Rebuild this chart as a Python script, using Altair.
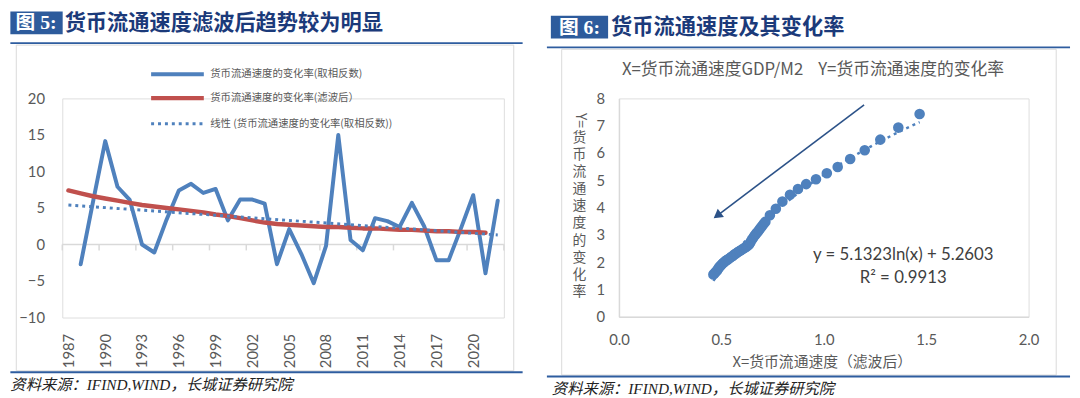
import altair as alt
import pandas as pd

# ---------------- data (left: 图5) ----------------
years = list(range(1987, 2023))
label_years = [1987, 1990, 1993, 1996, 1999, 2002, 2005, 2008, 2011, 2014, 2017, 2020]
left_y_ticks = [-10, -5, 0, 5, 10, 15, 20]

inv_years = list(range(1988, 2023))
inv_change = [-2.7, 5.8, 14.15, 7.9, 6.1, 0.0, -1.1, 3.4, 7.4, 8.3, 7.05, 7.6, 3.3,
              6.15, 6.15, 5.6, -2.7, 2.1, -1.35, -5.3, -0.2, 15.0, 0.6, -0.8, 3.6,
              3.2, 2.4, 5.7, 2.5, -2.15, -2.15, 2.2, 6.75, -3.95, 6.0]

filt_years = list(range(1987, 2022))
filt_change = [7.4, 7.0, 6.6, 6.3, 6.0, 5.7, 5.4, 5.2, 5.0, 4.8, 4.6, 4.4, 4.1, 3.9,
               3.6, 3.3, 3.0, 2.8, 2.7, 2.6, 2.5, 2.4, 2.4, 2.3, 2.2, 2.2, 2.1, 2.0,
               2.0, 1.9, 1.8, 1.8, 1.7, 1.7, 1.6]

trend_years = [1987, 2022]
trend_values = [5.4, 1.3]

legend_labels = ["货币流通速度的变化率(取相反数)",
                 "货币流通速度的变化率(滤波后）",
                 "线性 (货币流通速度的变化率(取相反数))"]

# ---------------- data (right: 图6) ----------------
speed_x = [0.461, 0.467, 0.473, 0.479, 0.485, 0.491, 0.497, 0.503, 0.509, 0.515, 0.521,
           0.527, 0.533, 0.541, 0.549, 0.557, 0.565, 0.573, 0.581, 0.589, 0.597, 0.606,
           0.614, 0.622, 0.629, 0.635, 0.641, 0.647, 0.654, 0.660, 0.666, 0.672, 0.678,
           0.685, 0.692, 0.699, 0.707, 0.715, 0.737, 0.766, 0.798, 0.835, 0.874, 0.914,
           0.962, 1.015, 1.068, 1.129, 1.200, 1.276, 1.364, 1.468]
speed_change = [1.55, 1.60, 1.65, 1.70, 1.77, 1.83, 1.88, 1.93, 1.97, 2.01, 2.05,
                2.08, 2.11, 2.15, 2.20, 2.24, 2.29, 2.33, 2.37, 2.41, 2.45, 2.49,
                2.53, 2.57, 2.61, 2.65, 2.72, 2.80, 2.88, 2.95, 3.01, 3.07, 3.12,
                3.19, 3.26, 3.33, 3.41, 3.48, 3.72, 3.96, 4.22, 4.47, 4.68, 4.86,
                5.04, 5.26, 5.49, 5.78, 6.10, 6.49, 6.93, 7.43]
right_x_ticks = [0, 0.5, 1.0, 1.5, 2.0]
right_y_ticks = [0, 1, 2, 3, 4, 5, 6, 7, 8]
arrow_from = [1.197, 7.76]
arrow_to = [0.480, 3.71]
equation_lines = ["y = 5.1323ln(x) + 5.2603", "R² = 0.9913"]

title_left = "货币流通速度滤波后趋势较为明显"
title_right = "货币流通速度及其变化率"
source_text = "资料来源：IFIND,WIND，长城证券研究院"
inner_title = "X=货币流通速度GDP/M2\u00a0\u00a0\u00a0\u00a0Y=货币流通速度的变化率"
x_title_right = "X=货币流通速度（滤波后）"
y_title_right_chars = "货币流通速度的变化率"

# ---------------- style ----------------
BLUE = "#4F81BD"
RED = "#C0504D"
BOX_BLUE = "#2D5B9C"
RULE_BLUE = "#2E5D9F"
NAVY = "#1B3A7A"
GRAY = "#595959"
AXIS = "#D9D9D9"
CJK = "Noto Sans CJK SC"
NUM = "Lato"
SERIF_MIX = "'Liberation Serif', 'Noto Sans CJK SC'"

one = alt.Data(values=[{"a": 1}])

# ================= LEFT PANEL =================
LX0, LY0 = 60.6, 96.0
W1, H1 = 447.4, 222.0
STEP = W1 / len(years)


def L(px):
    return px - LX0


def LT(py):
    return py - LY0


xenc1 = alt.X("year:O",
              scale=alt.Scale(type="point", domain=years, padding=0.5),
              axis=alt.Axis(values=label_years, labelAngle=270, domain=False, ticks=False,
                            grid=False, labelPadding=16, labelFont=NUM, labelFontSize=15,
                            labelColor=GRAY, labelOverlap=False),
              title=None)
yenc1 = alt.Y("v:Q",
              scale=alt.Scale(domain=[-10, 20], nice=False, zero=False),
              axis=alt.Axis(values=left_y_ticks, domain=False, ticks=False, grid=False,
                            labelPadding=18, labelFont=NUM, labelFontSize=15,
                            labelColor=GRAY, labelOverlap=False),
              title=None)

frame_l = alt.Chart(one).mark_rect(fill="transparent", stroke=AXIS, strokeWidth=1).encode(
    x=alt.value(L(14)), x2=alt.value(L(518)), y=alt.value(LT(42)), y2=alt.value(LT(372)))
rule_top_l = alt.Chart(one).mark_rule(color=RULE_BLUE, strokeWidth=2).encode(
    x=alt.value(L(8)), x2=alt.value(L(527)), y=alt.value(LT(40)))
rule_bot_l = alt.Chart(one).mark_rule(color=RULE_BLUE, strokeWidth=2).encode(
    x=alt.value(L(8)), x2=alt.value(L(527)), y=alt.value(LT(373.5)))
box_l = alt.Chart(one).mark_rect(color=BOX_BLUE).encode(
    x=alt.value(L(8)), x2=alt.value(L(61)), y=alt.value(LT(8)), y2=alt.value(LT(31)))
boxtxt_l = alt.Chart(one).mark_text(text="图 5:", font=SERIF_MIX, fontSize=20, fontWeight="bold",
                                    color="white", align="center", baseline="middle").encode(
    x=alt.value(L(34)), y=alt.value(LT(20)))
title_l = alt.Chart(one).mark_text(text=title_left, font=CJK, fontSize=21.5, fontWeight="bold",
                                   color=NAVY, align="left", baseline="middle").encode(
    x=alt.value(L(63)), y=alt.value(LT(20.5)))
source_l = alt.Chart(one).mark_text(text=source_text, font=SERIF_MIX, fontSize=15.5,
                                    fontStyle="italic", color="#222222", align="left",
                                    baseline="middle").encode(
    x=alt.value(L(8)), y=alt.value(LT(386.5)))

zero_df = pd.DataFrame({"v": [0]})
zero_rule = alt.Chart(zero_df).mark_rule(color=AXIS, strokeWidth=1.5).encode(
    x=alt.value(0), x2=alt.value(W1), y=yenc1)
ticks_a = alt.Chart(pd.DataFrame({"year": label_years, "v": [0] * len(label_years)})).mark_rule(
    color=AXIS, strokeWidth=1.5, xOffset=-STEP / 2, y2Offset=6).encode(
    x=xenc1, y=yenc1, y2="v:Q")
ticks_b = alt.Chart(pd.DataFrame({"year": [years[-1]], "v": [0]})).mark_rule(
    color=AXIS, strokeWidth=1.5, xOffset=STEP / 2, y2Offset=6).encode(
    x=xenc1, y=yenc1, y2="v:Q")

blue_line = alt.Chart(pd.DataFrame({"year": inv_years, "v": inv_change})).mark_line(
    color=BLUE, strokeWidth=4, strokeJoin="round", strokeCap="round").encode(x=xenc1, y=yenc1)
red_line = alt.Chart(pd.DataFrame({"year": filt_years, "v": filt_change})).mark_line(
    color=RED, strokeWidth=4.5, strokeJoin="round", strokeCap="round").encode(x=xenc1, y=yenc1)
trend_line = alt.Chart(pd.DataFrame({"year": trend_years, "v": trend_values})).mark_line(
    color=BLUE, strokeWidth=3, strokeDash=[3, 4]).encode(x=xenc1, y=yenc1)

leg_y = [71.5, 95.7, 121.6]
leg1 = alt.Chart(one).mark_rule(color=BLUE, strokeWidth=4).encode(
    x=alt.value(L(150.6)), x2=alt.value(L(204)), y=alt.value(LT(leg_y[0])))
leg2 = alt.Chart(one).mark_rule(color=RED, strokeWidth=4.5).encode(
    x=alt.value(L(150.6)), x2=alt.value(L(204)), y=alt.value(LT(leg_y[1])))
leg3 = alt.Chart(one).mark_rule(color=BLUE, strokeWidth=3, strokeDash=[3, 4]).encode(
    x=alt.value(L(150.6)), x2=alt.value(L(204)), y=alt.value(LT(leg_y[2])))
leg_texts = [alt.Chart(one).mark_text(text=lab, font=CJK, fontSize=10.5, color=GRAY,
                                      align="left", baseline="middle").encode(
    x=alt.value(L(210.5)), y=alt.value(LT(yy))) for lab, yy in zip(legend_labels, leg_y)]

left = alt.layer(frame_l, rule_top_l, rule_bot_l, box_l, boxtxt_l, title_l, source_l,
                 zero_rule, ticks_a, ticks_b, blue_line, red_line, trend_line,
                 leg1, leg2, leg3, *leg_texts).properties(width=W1, height=H1)

# ================= RIGHT PANEL =================
RX0, RY0 = 621.0, 91.7
W2, H2 = 415.0, 221.3


def R(px):
    return px - RX0


def RT(py):
    return py - RY0


xenc2 = alt.X("x:Q", scale=alt.Scale(domain=[0, 2], nice=False, zero=False),
              axis=alt.Axis(values=right_x_ticks, format=".1f", grid=False, ticks=False,
                            domainColor=AXIS, domainWidth=1.5, labelPadding=16,
                            labelFlush=False, labelFont=NUM, labelFontSize=15,
                            labelColor=GRAY),
              title=None)
yenc2 = alt.Y("y:Q", scale=alt.Scale(domain=[0, 8], nice=False, zero=False),
              axis=alt.Axis(values=right_y_ticks, grid=False, ticks=False,
                            domainColor=AXIS, domainWidth=1.5, labelPadding=14.5,
                            labelFlush=False, labelFont=NUM, labelFontSize=15,
                            labelColor=GRAY, labelOverlap=False),
              title=None)

frame_r = alt.Chart(one).mark_rect(fill="transparent", stroke=AXIS, strokeWidth=1).encode(
    x=alt.value(R(563)), x2=alt.value(R(1064)), y=alt.value(RT(42)), y2=alt.value(RT(372)))
rule_top_r = alt.Chart(one).mark_rule(color=RULE_BLUE, strokeWidth=2).encode(
    x=alt.value(R(548)), x2=alt.value(R(1078)), y=alt.value(RT(40)))
rule_bot_r = alt.Chart(one).mark_rule(color=RULE_BLUE, strokeWidth=2).encode(
    x=alt.value(R(548)), x2=alt.value(R(1078)), y=alt.value(RT(373.5)))
box_r = alt.Chart(one).mark_rect(color=BOX_BLUE).encode(
    x=alt.value(R(552)), x2=alt.value(R(610)), y=alt.value(RT(8)), y2=alt.value(RT(31)))
boxtxt_r = alt.Chart(one).mark_text(text="图 6:", font=SERIF_MIX, fontSize=20, fontWeight="bold",
                                    color="white", align="center", baseline="middle").encode(
    x=alt.value(R(581)), y=alt.value(RT(20)))
title_r = alt.Chart(one).mark_text(text=title_right, font=CJK, fontSize=21.5, fontWeight="bold",
                                   color=NAVY, align="left", baseline="middle").encode(
    x=alt.value(R(613)), y=alt.value(RT(20.5)))
source_r = alt.Chart(one).mark_text(text=source_text, font=SERIF_MIX, fontSize=15.5,
                                    fontStyle="italic", color="#222222", align="left",
                                    baseline="middle").encode(
    x=alt.value(R(553)), y=alt.value(RT(386.5)))

scatter_df = pd.DataFrame({"x": speed_x, "y": speed_change})
trend_r = alt.Chart(scatter_df).transform_regression("x", "y", method="log").mark_line(
    color=BLUE, strokeWidth=2.5, strokeDash=[3, 4]).encode(x=xenc2, y=yenc2)
points = alt.Chart(scatter_df).mark_circle(size=115, color=BLUE, opacity=1).encode(
    x=xenc2, y=yenc2)

arrow_df = pd.DataFrame({"x": [arrow_from[0]], "y": [arrow_from[1]],
                         "x2": [arrow_to[0]], "y2": [arrow_to[1]]})
arrow_line = alt.Chart(arrow_df).mark_rule(color="#2C5288", strokeWidth=1.6).encode(
    x=xenc2, y=yenc2, x2="x2:Q", y2="y2:Q")
arrow_head = alt.Chart(pd.DataFrame({"x": [arrow_to[0]], "y": [arrow_to[1]]})).mark_point(
    shape="triangle-up", filled=True, size=110, angle=233, color="#2C5288", opacity=1).encode(
    x=xenc2, y=yenc2)

eq1 = alt.Chart(one).mark_text(text=equation_lines[0], font=NUM, fontSize=17, color="#404040",
                               align="center", baseline="middle").encode(
    x=alt.value(R(909)), y=alt.value(RT(250.7)))
eq2 = alt.Chart(one).mark_text(text=equation_lines[1], font=NUM, fontSize=17, color="#404040",
                               align="center", baseline="middle").encode(
    x=alt.value(R(909)), y=alt.value(RT(274)))
inner_t = alt.Chart(one).mark_text(text=inner_title, font=CJK, fontSize=17, color=GRAY,
                                   align="left", baseline="middle").encode(
    x=alt.value(R(624)), y=alt.value(RT(63.3)))
x_title = alt.Chart(one).mark_text(text=x_title_right, font=CJK, fontSize=15, color=GRAY,
                                   align="center", baseline="middle").encode(
    x=alt.value(R(827)), y=alt.value(RT(359)))
y_title_a = alt.Chart(one).mark_text(text="Y=", font=CJK, fontSize=14, color=GRAY, angle=90,
                                     align="center", baseline="middle").encode(
    x=alt.value(R(581)), y=alt.value(RT(114)))
y_title_chars = [alt.Chart(one).mark_text(text=ch, font=CJK, fontSize=14, color=GRAY,
                                          align="center", baseline="middle").encode(
    x=alt.value(R(581)), y=alt.value(RT(132 + i * 17.3)))
    for i, ch in enumerate(y_title_right_chars)]

right = alt.layer(frame_r, rule_top_r, rule_bot_r, box_r, boxtxt_r, title_r, source_r,
                  trend_r, points, arrow_line, arrow_head, eq1, eq2, inner_t, x_title,
                  y_title_a, *y_title_chars).properties(width=W2, height=H2)

chart = alt.hconcat(left, right, spacing=21).properties(padding=0).configure_view(
    strokeWidth=0).configure(font=NUM)

chart.save("out.html", embed_options={"renderer": "svg", "actions": False})
